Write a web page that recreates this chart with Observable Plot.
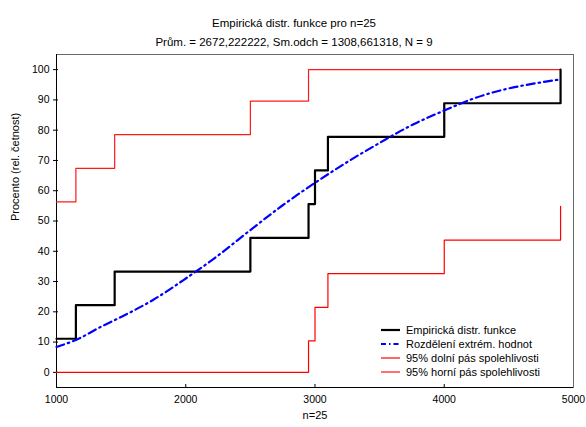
<!DOCTYPE html>
<html>
<head>
<meta charset="utf-8">
<script src="https://cdn.jsdelivr.net/npm/d3@7"></script>
<script src="https://cdn.jsdelivr.net/npm/@observablehq/plot@0.6"></script>
<style>
  html, body { margin: 0; padding: 0; background: #fff; }
  #chart { position: relative; width: 586px; height: 427px; font-family: "Liberation Sans", Arial, sans-serif; }
  #legend { position: absolute; left: 381px; top: 323px; font-size: 11px; color: #000; }
  #legend .row { display: flex; align-items: center; height: 14px; white-space: nowrap; }
  #legend svg { width: 25px; height: 14px; flex: none; }
</style>
</head>
<body>
<div id="chart"><div id="legend"></div></div>
<script>
// Sorted sample (N = 9) and its empirical distribution function in percent
const observations = [1000, 1150, 1450, 2500, 2950, 3000, 3100, 4000, 4900];
const ecdfPercent = [11.1, 22.2, 33.3, 44.4, 55.6, 66.7, 77.8, 88.9, 100];

// 95% confidence band: upper (horní) and lower (dolní) step functions
const upperX = [1000, 1150, 1450, 2500, 2950, 4900];
const upperY = [56.3, 67.4, 78.5, 89.6, 100, 100];
const lowerX = [1000, 2950, 3000, 3100, 4000, 4900];
const lowerY = [0, 10.4, 21.5, 32.6, 43.7, 54.8];

// Fitted extreme value distribution, read at these x positions
const evX = [1000, 1150, 1350, 1500, 1750, 2000, 2250, 2500, 2750, 3000, 3250, 3500, 3750, 4000, 4250, 4500, 4750, 4900];
const evY = [8.4, 10.7, 15.2, 18.3, 24.0, 31.0, 38.6, 47.0, 55.2, 62.6, 69.5, 75.8, 81.7, 86.5, 90.8, 93.8, 95.8, 96.8];

const xTicks = [1000, 2000, 3000, 4000, 5000];
const yTicks = [0, 10, 20, 30, 40, 50, 60, 70, 80, 90, 100];
const xDomain = [1000, 5000];
const yDomain = [-5, 105];

const title = "Empirická distr. funkce pro n=25";
const subtitle = "Prům. = 2672,222222, Sm.odch = 1308,661318, N = 9";
const xLabel = "n=25";
const yLabel = "Procento (rel. četnost)";

const series = [
  {name: "Empirická distr. funkce", stroke: "#000000", width: 2.2, dash: null},
  {name: "Rozdělení extrém. hodnot", stroke: "#0000ff", width: 2.2, dash: "8,4,1.5,4"},
  {name: "95% dolní pás spolehlivosti", stroke: "#ff0000", width: 1.2, dash: null},
  {name: "95% horní pás spolehlivosti", stroke: "#ff7070", width: 2, dash: null}
];

const pts = (xs, ys) => xs.map((x, i) => ({x, y: ys[i]}));
const ecdf = pts(observations, ecdfPercent);
const upper = pts(upperX, upperY);
const lower = pts(lowerX, lowerY);
const ev = pts(evX, evY);

const font = "Liberation Sans, Arial, sans-serif";
const plain = d => String(d);

const chart = Plot.plot({
  width: 586,
  height: 427,
  marginLeft: 56,
  marginRight: 13,
  marginTop: 54,
  marginBottom: 40,
  style: {fontFamily: font, fontSize: "10.5px", background: "#fff", color: "#000"},
  x: {domain: xDomain, label: null},
  y: {domain: yDomain, label: null},
  marks: [
    // frame: grey top/right, black left/bottom
    Plot.frame({stroke: "#6a6a6a", strokeWidth: 1}),
    Plot.ruleX([xDomain[0]], {stroke: "#000", strokeWidth: 1}),
    Plot.ruleY([yDomain[0]], {stroke: "#000", strokeWidth: 1}),
    // y ticks cross the left edge; x ticks point inward
    Plot.axisY({ticks: yTicks, tickSize: 3, tickPadding: 4, tickFormat: plain, fontSize: 10.5, label: null}),
    Plot.axisY({ticks: yTicks, tickSize: -2, tickFormat: () => "", label: null}),
    Plot.axisX({ticks: xTicks, tickSize: 0, tickPadding: 8, tickFormat: plain, fontSize: 10.5, label: null}),
    Plot.axisX({ticks: xTicks.slice(1, -1), tickSize: -3, tickFormat: () => "", label: null}),
    // bands
    Plot.line(lower, {x: "x", y: "y", curve: "step-after", stroke: series[2].stroke, strokeWidth: 1.2}),
    Plot.line(upper, {x: "x", y: "y", curve: "step-after", stroke: "#ff1a1a", strokeWidth: 1.2}),
    // empirical distribution function
    Plot.line(ecdf, {x: "x", y: "y", curve: "step-after", stroke: series[0].stroke, strokeWidth: series[0].width}),
    // extreme value distribution
    Plot.line(ev, {x: "x", y: "y", curve: "monotone-x", stroke: series[1].stroke, strokeWidth: series[1].width, strokeDasharray: series[1].dash}),
    // titles and axis labels
    Plot.text([title], {frameAnchor: "top", dx: -21, dy: -36, fontSize: 11.5, fill: "#000"}),
    Plot.text([subtitle], {frameAnchor: "top", dx: -21, dy: -17, fontSize: 11.5, fill: "#000"}),
    Plot.text([xLabel], {frameAnchor: "bottom", dy: 31, fontSize: 11, fill: "#000"}),
    Plot.text([yLabel], {frameAnchor: "left", dx: -41, rotate: -90, fontSize: 11, fill: "#000"})
  ]
});

const root = document.getElementById("chart");
root.insertBefore(chart, root.firstChild);

// legend
const legend = d3.select("#legend");
for (const s of series) {
  const row = legend.append("div").attr("class", "row");
  const sw = row.append("svg");
  sw.append("line")
    .attr("x1", 0).attr("x2", 19).attr("y1", 7).attr("y2", 7)
    .attr("stroke", s.stroke).attr("stroke-width", s.width)
    .attr("stroke-dasharray", s.dash ? "5,3,1.5,3" : null);
  row.append("span").text(s.name);
}
</script>
</body>
</html>
